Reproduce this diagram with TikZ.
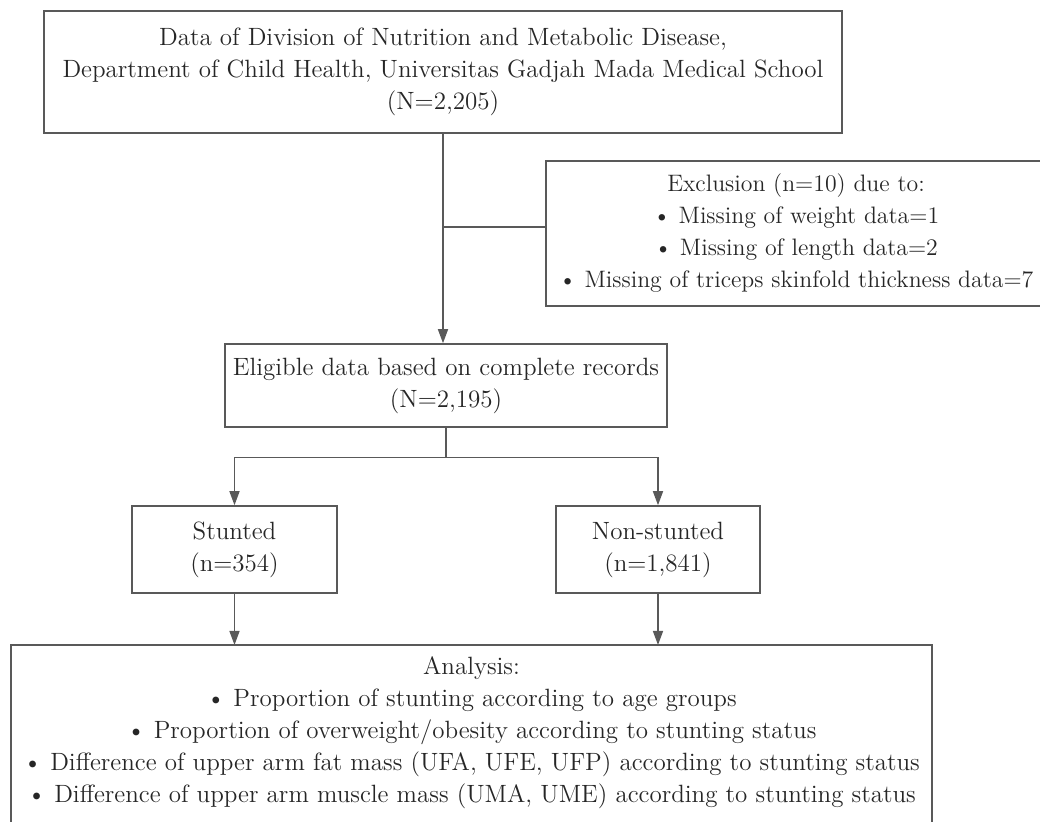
\documentclass[tikz,border=0pt]{standalone}
\usetikzlibrary{arrows.meta}
\tikzset{
  boxnode/.style={draw=black!65, line width=0.75pt, inner sep=0pt, align=center, text=black!85},
  flowline/.style={draw=black!65, line width=0.75pt},
  flowarrow/.style={flowline, -{Triangle[length=7pt,width=5pt]}}
}
\begin{document}
\begin{tikzpicture}[x=0.5pt,y=-0.5pt]
                        \useasboundingbox (0,0) rectangle (1040,822);
                        \clip (0,0) rectangle (1040,822);
                        {\fontsize{12.5}{16}\selectfont

                        % Drawing box of source data
                        \node (src) [boxnode, minimum width=399pt, minimum height=61pt] at (443,72)
                          {Data of Division of Nutrition and Metabolic Disease,\\ Department of Child Health, Universitas Gadjah Mada Medical School\\ (N=2,205)};%

                        % Drawing box of exclusion
                        \node (excl) [boxnode, minimum width=250pt, minimum height=72.5pt, font=\fontsize{11.9}{16}\selectfont] at (796,233.5)
                          {Exclusion (n=10) due to:\\ \textbullet{} Missing of weight data=1\\ \textbullet{} Missing of length data=2\\ \textbullet{} Missing of triceps skinfold thickness data=7};%

                        % Drawing box of eligible data
                        \node (elig) [boxnode, minimum width=221pt, minimum height=41.5pt] at (446,385.5)
                          {Eligible data based on complete records\\ (N=2,195)};%

                        % Drawing boxes of stunted and non-stunted
                        \node (stunted) [boxnode, minimum width=102.5pt, minimum height=43.5pt] at (234.5,549.5)
                          {Stunted\\ (n=354)};%
                        \node (nonstunted) [boxnode, minimum width=102pt, minimum height=43.5pt] at (658,549.5)
                          {Non-stunted\\ (n=1,841)};%

                        % Drawing box of analysis (open at the bottom)
                        \coordinate (anatop) at (471.5,645);
                        \draw [flowline] (11,830) |- (932,645) -- (932,830);%
                        \node (ana) [align=center, text=black!85] at (471.5,733)
                          {Analysis:\\ \textbullet{} Proportion of stunting according to age groups\\ \textbullet{} Proportion of overweight/obesity according to stunting status\\ \textbullet{} Difference of upper arm fat mass (UFA, UFE, UFP) according to stunting status\\ \textbullet{} Difference of upper arm muscle mass (UMA, UME) according to stunting status};%

                        % Drawing line src elig
                        \draw [flowarrow] (src.south) -- (src.south |- elig.north);%
                        \draw [flowline] (src.south |- 0,227) -- (excl.west |- 0,227);%

                        % Drawing line elig stunted nonstunted
                        \draw [flowline] (elig.south) -- ++(0,30) coordinate (split);%
                        \draw [flowarrow] (split) -| (stunted.north);%
                        \draw [flowarrow] (split) -| (nonstunted.north);%

                        % Drawing line stunted nonstunted ana
                        \draw [flowarrow] (stunted.south) -- (stunted.south |- anatop);%
                        \draw [flowarrow] (nonstunted.south) -- (nonstunted.south |- anatop);%
                        }
\end{tikzpicture}
\end{document}
